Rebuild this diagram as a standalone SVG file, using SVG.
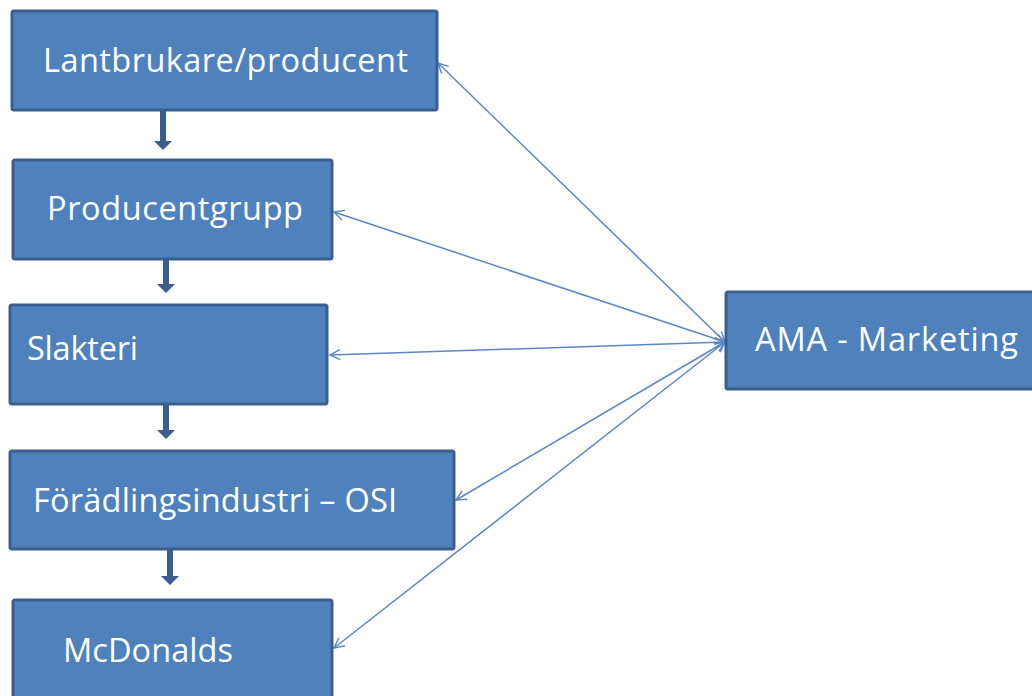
<svg xmlns="http://www.w3.org/2000/svg" width="1032" height="696" viewBox="0 0 1032 696">
<defs>
<style>
.box{fill:#4f81bd;stroke:#3a5f8e;stroke-width:3}
.lbl{font-family:"Open Sans","Noto Sans","Liberation Sans",sans-serif;font-size:32.5px;fill:#ffffff}
.flow{fill:#3a5f8e}
.link{stroke:#5b87c4;stroke-width:1.5;fill:none;marker-start:url(#oh);marker-end:url(#oh)}
</style>
<marker id="oh" viewBox="-12 -7 14 14" refX="0" refY="0" markerWidth="14" markerHeight="14" markerUnits="userSpaceOnUse" orient="auto-start-reverse">
<path d="M-10,-5 L0,0 L-10,5" fill="none" stroke="#5b87c4" stroke-width="1.4"/>
</marker>
</defs>
<rect width="1032" height="696" fill="#ffffff"/>
<g id="connectors">
<polygon class="flow" points="160,110 166,110 166,141 172,141 163,150 154,141 160,141"/>
<polygon class="flow" points="163,259 169,259 169,284 175,284 166,293 157,284 163,284"/>
<polygon class="flow" points="163,404 169,404 169,430 175,430 166,439 157,430 163,430"/>
<polygon class="flow" points="167,549 173,549 173,576 179,576 170,585 161,576 167,576"/>
<line class="link" x1="438" y1="63" x2="725" y2="342"/>
<line class="link" x1="334" y1="212" x2="725" y2="342"/>
<line class="link" x1="330" y1="355" x2="725" y2="342"/>
<line class="link" x1="456" y1="500" x2="725" y2="342"/>
<line class="link" x1="334" y1="648" x2="725" y2="342"/>
</g>
<g id="n1"><rect class="box" x="12" y="11" width="425" height="99" rx="2"/><text class="lbl" x="43" y="72" textLength="365">Lantbrukare/producent</text></g>
<g id="n2"><rect class="box" x="13" y="160" width="319" height="99" rx="2"/><text class="lbl" x="47" y="220" textLength="256">Producentgrupp</text></g>
<g id="n3"><rect class="box" x="10" y="305" width="317" height="99" rx="2"/><text class="lbl" x="27" y="360" textLength="111">Slakteri</text></g>
<g id="n4"><rect class="box" x="10" y="451" width="444" height="98" rx="2"/><text class="lbl" x="33" y="512" textLength="364">Förädlingsindustri – OSI</text></g>
<g id="n5"><rect class="box" x="13" y="600" width="319" height="110" rx="2"/><text class="lbl" x="63" y="662" textLength="170">McDonalds</text></g>
<g id="n6"><rect class="box" x="726" y="292" width="320" height="97" rx="2"/><text class="lbl" x="755" y="351" textLength="263">AMA - Marketing</text></g>
</svg>
